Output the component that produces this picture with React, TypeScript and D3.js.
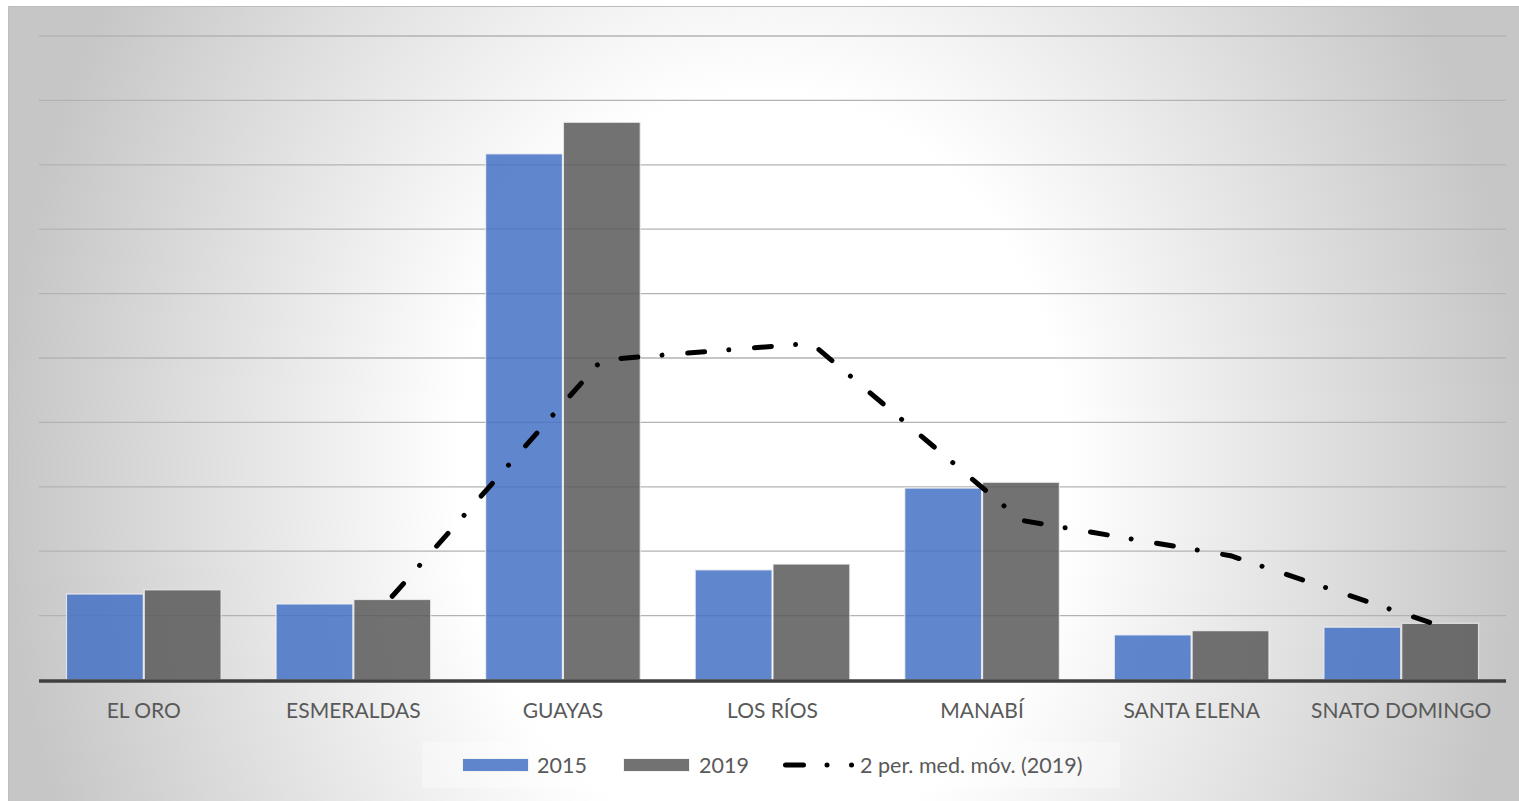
import React from "react";
import * as d3 from "d3";

// Provinces along the x axis
const categories = [
  "EL ORO",
  "ESMERALDAS",
  "GUAYAS",
  "LOS RÍOS",
  "MANABÍ",
  "SANTA ELENA",
  "SNATO DOMINGO",
];

// Column series
const values2015 = [1.335, 1.18, 8.17, 1.71, 2.98, 0.7, 0.82];
const values2019 = [1.4, 1.25, 8.66, 1.8, 3.07, 0.766, 0.88];

// Two-period moving average trendline of the 2019 series (none for the first category)
const movingAvg2019: (number | null)[] = [null, 1.3, 4.97, 5.23, 2.48, 1.93, 0.84];

const seriesNames = ["2015", "2019"];
const trendName = "2 per. med. móv. (2019)";
const gridTicks = [1, 2, 3, 4, 5, 6, 7, 8, 9, 10];

const W = 1519;
const H = 801;
const frame = { x: 8, y: 6, w: 1511, h: 795 };
const plot = { left: 39, right: 1506, top: 36, bottom: 680 };

const colors = { "2015": "#4472c4", "2019": "#595959" };
const FONT = "Lato, 'Liberation Sans', sans-serif";

export default function App() {
  const x = d3
    .scaleBand<string>()
    .domain(categories)
    .range([plot.left, plot.right])
    .paddingInner(0.2576)
    .paddingOuter(0.1288);
  const xs = d3.scaleBand<string>().domain(seriesNames).range([0, x.bandwidth()]).padding(0);
  const y = d3.scaleLinear().domain([0, 10]).range([plot.bottom, plot.top]);

  const trendPoints = categories
    .map((c, i) => ({ c, v: movingAvg2019[i] }))
    .filter((d) => d.v !== null) as { c: string; v: number }[];

  const line = d3
    .line<{ c: string; v: number }>()
    .x((d) => (x(d.c) as number) + (xs("2019") as number) + xs.bandwidth() / 2)
    .y((d) => y(d.v));

  const seriesData: Record<string, number[]> = { "2015": values2015, "2019": values2019 };

  return (
    <svg
      width={W}
      height={H}
      style={{ position: "absolute", left: 0, top: 0, display: "block" }}
      fontFamily={FONT}
    >
      <defs>
        <radialGradient
          id="bg"
          gradientUnits="userSpaceOnUse"
          cx={0}
          cy={0}
          r={1}
          gradientTransform="translate(763,470) scale(760,940)"
        >
          <stop offset="0" stopColor="#ffffff" />
          <stop offset="0.4" stopColor="#ffffff" />
          <stop offset="1" stopColor="#c6c6c6" />
        </radialGradient>
      </defs>
      <rect x={0} y={0} width={W} height={H} fill="#ffffff" />
      <rect
        x={frame.x + 0.5}
        y={frame.y + 0.5}
        width={frame.w}
        height={frame.h}
        fill="url(#bg)"
        stroke="#bdbdbd"
        strokeWidth={1}
      />

      {/* horizontal gridlines */}
      {gridTicks.map((t) => (
        <line
          key={t}
          x1={plot.left}
          x2={plot.right}
          y1={y(t)}
          y2={y(t)}
          stroke="#b3b3b3"
          strokeWidth={1.3}
        />
      ))}

      {/* columns */}
      {seriesNames.map((s) => (
        <g key={s}>
          {categories.map((c, i) => {
            const v = seriesData[s][i];
            const bx = (x(c) as number) + (xs(s) as number);
            return (
              <rect
                key={c}
                x={bx + 0.5}
                y={y(v)}
                width={xs.bandwidth() - 1}
                height={y(0) - y(v)}
                fill={colors[s as "2015" | "2019"]}
                fillOpacity={0.85}
                stroke="#f2f2f2"
                strokeOpacity={0.8}
                strokeWidth={1.2}
              />
            );
          })}
        </g>
      ))}

      {/* category axis */}
      <line
        x1={plot.left}
        x2={plot.right}
        y1={y(0) + 1}
        y2={y(0) + 1}
        stroke="#404040"
        strokeWidth={3.5}
      />
      {categories.map((c) => (
        <text
          key={c}
          x={(x(c) as number) + x.bandwidth() / 2}
          y={718}
          textAnchor="middle"
          fontSize={21}
          fill="#595959"
        >
          {c}
        </text>
      ))}

      {/* moving-average trendline */}
      <path
        d={line(trendPoints) || ""}
        fill="none"
        stroke="#000000"
        strokeWidth={5}
        strokeLinecap="round"
        strokeLinejoin="round"
        strokeDasharray="17 24.25 0.01 25.74"
      />

      {/* legend */}
      <g>
        <rect x={422} y={742} width={698} height={46} fill="#ffffff" fillOpacity={0.35} />
        <rect x={462.5} y={758.5} width={66} height={13} fill={colors["2015"]} fillOpacity={0.85} stroke="#f2f2f2" />
        <text x={537} y={773} fontSize={21.5} fill="#595959">
          {seriesNames[0]}
        </text>
        <rect x={623.5} y={758.5} width={66} height={13} fill={colors["2019"]} fillOpacity={0.85} stroke="#f2f2f2" />
        <text x={699} y={773} fontSize={21.5} fill="#595959">
          {seriesNames[1]}
        </text>
        <line
          x1={785.5}
          x2={853}
          y1={765}
          y2={765}
          stroke="#000"
          strokeWidth={5}
          strokeLinecap="round"
          strokeDasharray="18 23.5 0.01 24.5 0.01 100"
        />
        <text x={860} y={773} fontSize={21.5} fill="#595959">
          {trendName}
        </text>
      </g>
    </svg>
  );
}
